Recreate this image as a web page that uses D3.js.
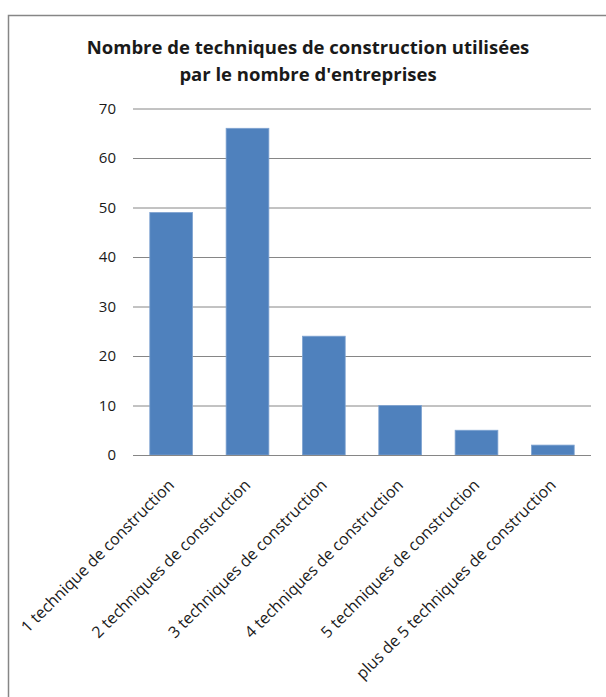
<!DOCTYPE html>
<html>
<head>
<meta charset="utf-8">
<script src="https://cdn.jsdelivr.net/npm/d3@7"></script>
<style>
  body { margin: 0; background: #fff; }
  text { font-family: "Open Sans", Lato, sans-serif; fill: #1a1a1a; }
</style>
</head>
<body>
<script>
// data
var categories = [
    "1 technique de construction",
    "2 techniques de construction",
    "3 techniques de construction",
    "4 techniques de construction",
    "5 techniques de construction",
    "plus de 5 techniques de construction"
];
var values = [49, 66, 24, 10, 5, 2];
var yTicks = [0, 10, 20, 30, 40, 50, 60, 70];
var titleLines = ["Nombre de techniques de construction utilisées", "par le nombre d'entreprises"];

var width = 606,
    height = 697,
    plotLeft = 133,
    plotRight = 591,
    plotTop = 108.5,
    plotBottom = 455;

var svg = d3.select("body").append("svg")
    .attr("width", width)
    .attr("height", height);

// chart border (runs off the right and bottom edge)
svg.append("path")
    .attr("d", "M8.5," + height + "V15.5H" + width)
    .attr("fill", "none")
    .attr("stroke", "#868686")
    .attr("stroke-width", 1.5);

svg.selectAll(".title")
    .data(titleLines)
    .enter().append("text")
    .attr("class", "title")
    .attr("x", 308)
    .attr("y", function (d, i) { return 54 + i * 27; })
    .attr("text-anchor", "middle")
    .style("font-size", "18.5px")
    .style("font-weight", "bold")
    .text(function (d) { return d; });

var x = d3.scaleBand()
    .domain(categories)
    .range([plotLeft, plotRight])
    .paddingInner(0.44)
    .paddingOuter(0.22);

var y = d3.scaleLinear()
    .domain([0, 70])
    .range([plotBottom, plotTop]);

// gridlines + y labels
var yAxis = svg.append("g")
    .attr("transform", "translate(" + plotLeft + ",0)")
    .call(d3.axisLeft(y).tickValues(yTicks).tickSize(-(plotRight - plotLeft)).tickPadding(17));
yAxis.select(".domain").remove();
yAxis.selectAll(".tick line").attr("stroke", "#868686");
yAxis.selectAll(".tick text")
    .style("font-size", "15px")
    .style("font-family", "'Open Sans', Lato, sans-serif")
    .attr("fill", "#1a1a1a");

svg.selectAll(".bar")
    .data(values)
    .enter().append("rect")
    .attr("class", "bar")
    .attr("x", function (d, i) { return x(categories[i]); })
    .attr("y", function (d) { return y(d); })
    .attr("width", x.bandwidth())
    .attr("height", function (d) { return y(0) - y(d); })
    .attr("fill", "#4F81BD")
    .attr("stroke", "#7FA3D1")
    .attr("stroke-width", 0.8);

// x axis line
svg.append("line")
    .attr("x1", plotLeft).attr("x2", plotRight)
    .attr("y1", plotBottom + 0.5).attr("y2", plotBottom + 0.5)
    .attr("stroke", "#868686");

// rotated category labels
svg.selectAll(".xlab")
    .data(categories)
    .enter().append("text")
    .attr("class", "xlab")
    .attr("text-anchor", "end")
    .attr("transform", function (d) {
        var cx = x(d) + x.bandwidth() / 2;
        return "translate(" + (cx + 4) + "," + (plotBottom + 31) + ") rotate(-45)";
    })
    .style("font-size", "16px")
    .text(function (d) { return d; });
</script>
</body>
</html>
